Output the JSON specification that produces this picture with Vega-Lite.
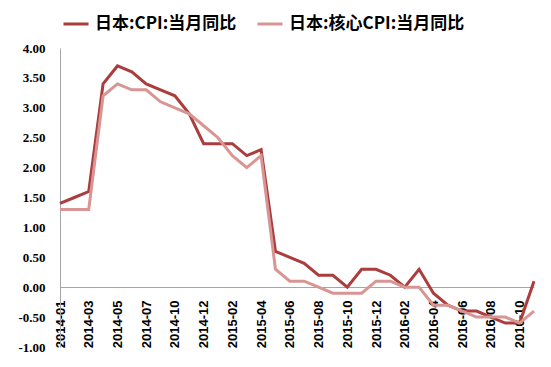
{
  "$schema": "https://vega.github.io/schema/vega-lite/v6.json",
  "autosize": {"type": "none"},
  "width": 474,
  "height": 299,
  "padding": {"left": 60, "top": 48, "right": 17, "bottom": 20},
  "background": "white",
  "config": {"view": {"stroke": null}},
  "data": {"values": [
    {"m":"2014-01","s":"日本:CPI:当月同比","v":1.4},{"m":"2014-01","s":"日本:核心CPI:当月同比","v":1.3},
    {"m":"2014-02","s":"日本:CPI:当月同比","v":1.5},{"m":"2014-02","s":"日本:核心CPI:当月同比","v":1.3},
    {"m":"2014-03","s":"日本:CPI:当月同比","v":1.6},{"m":"2014-03","s":"日本:核心CPI:当月同比","v":1.3},
    {"m":"2014-04","s":"日本:CPI:当月同比","v":3.4},{"m":"2014-04","s":"日本:核心CPI:当月同比","v":3.2},
    {"m":"2014-05","s":"日本:CPI:当月同比","v":3.7},{"m":"2014-05","s":"日本:核心CPI:当月同比","v":3.4},
    {"m":"2014-06","s":"日本:CPI:当月同比","v":3.6},{"m":"2014-06","s":"日本:核心CPI:当月同比","v":3.3},
    {"m":"2014-07","s":"日本:CPI:当月同比","v":3.4},{"m":"2014-07","s":"日本:核心CPI:当月同比","v":3.3},
    {"m":"2014-08","s":"日本:CPI:当月同比","v":3.3},{"m":"2014-08","s":"日本:核心CPI:当月同比","v":3.1},
    {"m":"2014-10","s":"日本:CPI:当月同比","v":3.2},{"m":"2014-10","s":"日本:核心CPI:当月同比","v":3.0},
    {"m":"2014-11","s":"日本:CPI:当月同比","v":2.9},{"m":"2014-11","s":"日本:核心CPI:当月同比","v":2.9},
    {"m":"2014-12","s":"日本:CPI:当月同比","v":2.4},{"m":"2014-12","s":"日本:核心CPI:当月同比","v":2.7},
    {"m":"2015-01","s":"日本:CPI:当月同比","v":2.4},{"m":"2015-01","s":"日本:核心CPI:当月同比","v":2.5},
    {"m":"2015-02","s":"日本:CPI:当月同比","v":2.4},{"m":"2015-02","s":"日本:核心CPI:当月同比","v":2.2},
    {"m":"2015-03","s":"日本:CPI:当月同比","v":2.2},{"m":"2015-03","s":"日本:核心CPI:当月同比","v":2.0},
    {"m":"2015-04","s":"日本:CPI:当月同比","v":2.3},{"m":"2015-04","s":"日本:核心CPI:当月同比","v":2.2},
    {"m":"2015-05","s":"日本:CPI:当月同比","v":0.6},{"m":"2015-05","s":"日本:核心CPI:当月同比","v":0.3},
    {"m":"2015-06","s":"日本:CPI:当月同比","v":0.5},{"m":"2015-06","s":"日本:核心CPI:当月同比","v":0.1},
    {"m":"2015-07","s":"日本:CPI:当月同比","v":0.4},{"m":"2015-07","s":"日本:核心CPI:当月同比","v":0.1},
    {"m":"2015-08","s":"日本:CPI:当月同比","v":0.2},{"m":"2015-08","s":"日本:核心CPI:当月同比","v":0.0},
    {"m":"2015-09","s":"日本:CPI:当月同比","v":0.2},{"m":"2015-09","s":"日本:核心CPI:当月同比","v":-0.1},
    {"m":"2015-10","s":"日本:CPI:当月同比","v":0.0},{"m":"2015-10","s":"日本:核心CPI:当月同比","v":-0.1},
    {"m":"2015-11","s":"日本:CPI:当月同比","v":0.3},{"m":"2015-11","s":"日本:核心CPI:当月同比","v":-0.1},
    {"m":"2015-12","s":"日本:CPI:当月同比","v":0.3},{"m":"2015-12","s":"日本:核心CPI:当月同比","v":0.1},
    {"m":"2016-01","s":"日本:CPI:当月同比","v":0.2},{"m":"2016-01","s":"日本:核心CPI:当月同比","v":0.1},
    {"m":"2016-02","s":"日本:CPI:当月同比","v":0.0},{"m":"2016-02","s":"日本:核心CPI:当月同比","v":0.0},
    {"m":"2016-03","s":"日本:CPI:当月同比","v":0.3},{"m":"2016-03","s":"日本:核心CPI:当月同比","v":0.0},
    {"m":"2016-04","s":"日本:CPI:当月同比","v":-0.1},{"m":"2016-04","s":"日本:核心CPI:当月同比","v":-0.3},
    {"m":"2016-05","s":"日本:CPI:当月同比","v":-0.3},{"m":"2016-05","s":"日本:核心CPI:当月同比","v":-0.3},
    {"m":"2016-06","s":"日本:CPI:当月同比","v":-0.4},{"m":"2016-06","s":"日本:核心CPI:当月同比","v":-0.4},
    {"m":"2016-07","s":"日本:CPI:当月同比","v":-0.4},{"m":"2016-07","s":"日本:核心CPI:当月同比","v":-0.5},
    {"m":"2016-08","s":"日本:CPI:当月同比","v":-0.5},{"m":"2016-08","s":"日本:核心CPI:当月同比","v":-0.5},
    {"m":"2016-09","s":"日本:CPI:当月同比","v":-0.6},{"m":"2016-09","s":"日本:核心CPI:当月同比","v":-0.5},
    {"m":"2016-10","s":"日本:CPI:当月同比","v":-0.6},{"m":"2016-10","s":"日本:核心CPI:当月同比","v":-0.6},
    {"m":"2016-11","s":"日本:CPI:当月同比","v":0.1},{"m":"2016-11","s":"日本:核心CPI:当月同比","v":-0.4}
  ]},
  "mark": {"type": "line", "strokeWidth": 3, "strokeJoin": "miter"},
  "encoding": {
    "x": {
      "field": "m", "type": "ordinal", "sort": null,
      "scale": {"type": "point", "padding": 0},
      "axis": {
        "title": null,
        "values": ["2014-01","2014-03","2014-05","2014-07","2014-10","2014-12","2015-02","2015-04","2015-06","2015-08","2015-10","2015-12","2016-02","2016-04","2016-06","2016-08","2016-10"],
        "offset": -60,
        "labelAngle": -90,
        "labelAlign": "right",
        "labelBaseline": "middle",
        "labelPadding": 13,
        "ticks": false,
        "domainColor": "#A6A6A6",
        "domainWidth": 1,
        "labelFont": "Liberation Sans",
        "labelFontWeight": "bold",
        "labelFontSize": 13,
        "labelColor": "#000000",
        "grid": false
      }
    },
    "y": {
      "field": "v", "type": "quantitative",
      "scale": {"domain": [-1, 4], "nice": false, "zero": false},
      "axis": {
        "title": null,
        "values": [-1, -0.5, 0, 0.5, 1, 1.5, 2, 2.5, 3, 3.5, 4],
        "labelExpr": "replace(format(datum.value, '.2f'), '−', '-')",
        "ticks": false,
        "labelPadding": 15,
        "domainColor": "#A6A6A6",
        "domainWidth": 1,
        "grid": false,
        "labelFont": "Liberation Serif",
        "labelFontWeight": "bold",
        "labelFontSize": 13,
        "labelColor": "#000000"
      }
    },
    "color": {
      "field": "s", "type": "nominal",
      "scale": {"domain": ["日本:CPI:当月同比", "日本:核心CPI:当月同比"], "range": ["#AB3D3D", "#D99594"]},
      "legend": {
        "title": null,
        "orient": "none",
        "direction": "horizontal",
        "legendX": 2,
        "legendY": -38,
        "symbolType": "stroke",
        "symbolSize": 625,
        "symbolStrokeWidth": 3,
        "labelFont": "Noto Sans CJK SC",
        "labelFontWeight": "bold",
        "labelFontSize": 17,
        "labelColor": "#000000",
        "labelOffset": 5,
        "columnPadding": 14,
        "labelLimit": 300
      }
    }
  }
}
